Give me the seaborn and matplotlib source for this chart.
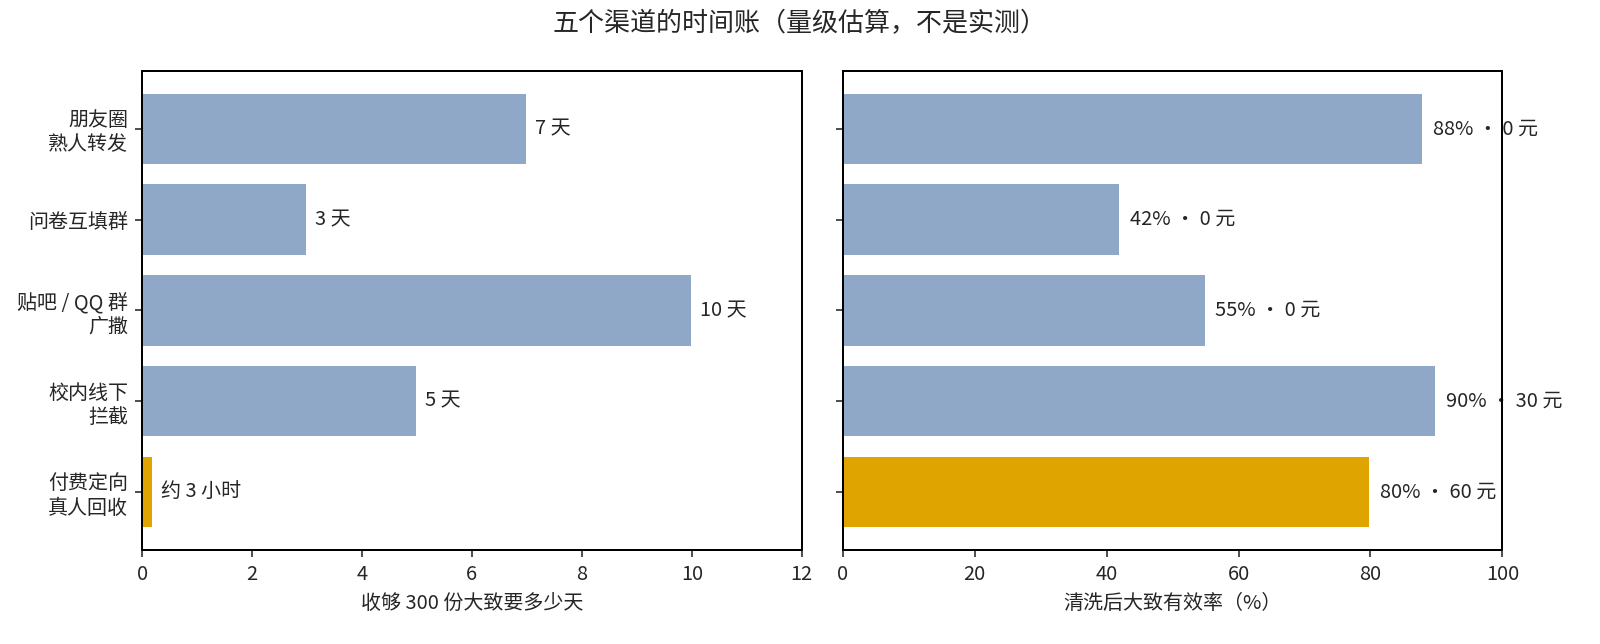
import seaborn as sns
import matplotlib.pyplot as plt
import pandas as pd

# data
channels = ["朋友圈\n熟人转发", "问卷互填群", "贴吧 / QQ 群\n广撒", "校内线下\n拦截", "付费定向\n真人回收"]
days = [7, 3, 10, 5, 0.2]
day_labels = ["7 天", "3 天", "10 天", "5 天", "约 3 小时"]
valid_rate = [88, 42, 55, 90, 80]
cost_yuan = [0, 0, 0, 30, 60]
bar_colors = ["#8FA8C8", "#8FA8C8", "#8FA8C8", "#8FA8C8", "#E0A400"]

df = pd.DataFrame({"channel": channels, "days": days, "rate": valid_rate})
palette = dict(zip(channels, bar_colors))

sns.set_style("ticks")
plt.rcParams["font.family"] = ["Noto Sans CJK SC", "DejaVu Sans"]
plt.rcParams["axes.unicode_minus"] = False

DPI = 144
fig, (ax1, ax2) = plt.subplots(1, 2, figsize=(1600 / DPI, 644 / DPI), dpi=DPI, sharey=True)
fig.subplots_adjust(left=0.0888, right=0.939, top=0.890, bottom=0.146, wspace=0.062)

# ---------------- LEFT: days ---------------- #
sns.barplot(data=df, x="days", y="channel", hue="channel", palette=palette,
            legend=False, width=0.8, ax=ax1, saturation=1)
for i, (v, lab) in enumerate(zip(days, day_labels)):
    ax1.text(v + 0.15, i, lab, va="center", ha="left", fontsize=10, zorder=2)
ax1.set_xlim(0, 12)
ax1.set_xticks([0, 2, 4, 6, 8, 10, 12])
ax1.set_xlabel("收够 300 份大致要多少天", fontsize=10)
ax1.set_ylabel("")

# ---------------- RIGHT: valid rate ---------------- #
sns.barplot(data=df, x="rate", y="channel", hue="channel", palette=palette,
            legend=False, width=0.8, ax=ax2, saturation=1)
for i, (r, c) in enumerate(zip(valid_rate, cost_yuan)):
    ax2.text(r + 1.5, i, f"{r}% · {c} 元", va="center", ha="left", fontsize=10, zorder=2)
ax2.set_xlim(0, 100)
ax2.set_xticks([0, 20, 40, 60, 80, 100])
ax2.set_xlabel("清洗后大致有效率（%）", fontsize=10)
ax2.set_ylabel("")
ax2.tick_params(axis="y", labelleft=False)

ax1.set_ylim(4.64, -0.64)
for ax in (ax1, ax2):
    ax.tick_params(labelsize=10)
    for sp in ax.spines.values():
        sp.set_linewidth(1.0)
        sp.set_color("black")

fig.suptitle("五个渠道的时间账（量级估算，不是实测）", fontsize=13, y=0.985)

fig.savefig("out.png", dpi=DPI)
